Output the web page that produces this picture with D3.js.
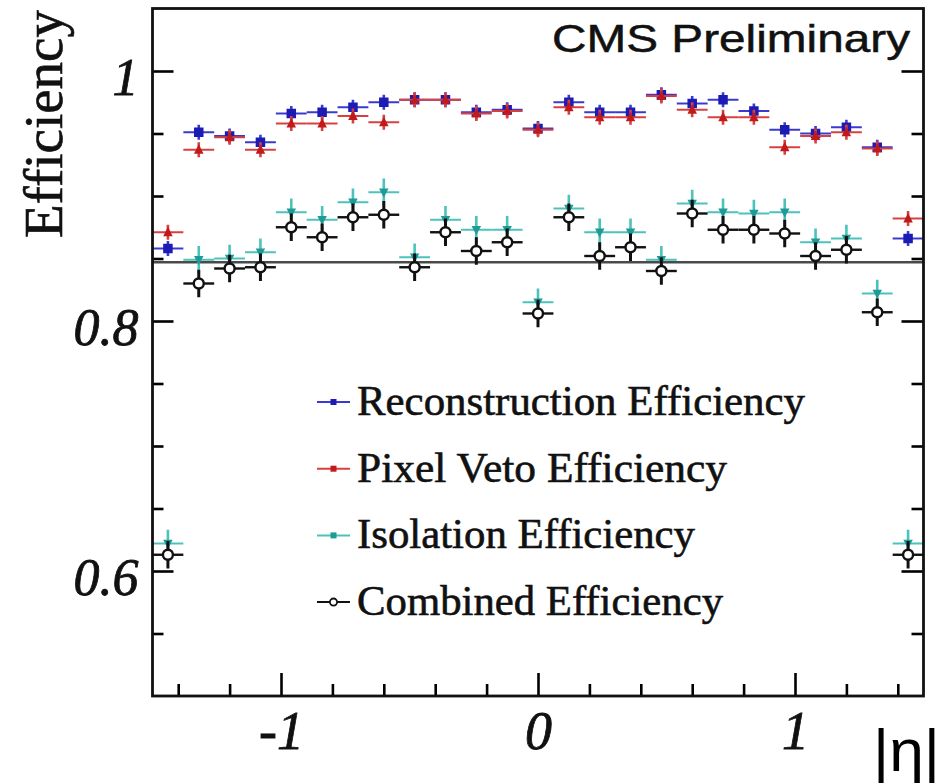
<!DOCTYPE html>
<html>
<head>
<meta charset="utf-8">
<script src="https://cdn.jsdelivr.net/npm/d3@7"></script>
<style>
  html, body { margin: 0; padding: 0; background: #fff; }
  svg { display: block; }
</style>
</head>
<body>
<svg id="chart" width="952" height="784"></svg>
<script>
// |eta| bin centres (bin width 0.12)
const etaBins = [-1.44, -1.32, -1.20, -1.08, -0.96, -0.84, -0.72, -0.60, -0.48, -0.36, -0.24, -0.12,
                 0.00, 0.12, 0.24, 0.36, 0.48, 0.60, 0.72, 0.84, 0.96, 1.08, 1.20, 1.32, 1.44];
const binHalfWidth = 0.06;

const recoEff  = [0.858, 0.951, 0.948, 0.943, 0.966, 0.967, 0.971, 0.975, 0.977, 0.977, 0.967, 0.969,
                  0.954, 0.975, 0.967, 0.967, 0.981, 0.974, 0.977, 0.968, 0.953, 0.950, 0.955, 0.939, 0.866];
const pixelEff = [0.871, 0.937, 0.947, 0.937, 0.958, 0.958, 0.964, 0.959, 0.977, 0.977, 0.966, 0.968,
                  0.953, 0.971, 0.963, 0.963, 0.980, 0.969, 0.963, 0.963, 0.939, 0.948, 0.951, 0.938, 0.882];
const isoEff   = [0.622, 0.849, 0.850, 0.855, 0.887, 0.881, 0.895, 0.903, 0.851, 0.881, 0.873, 0.873,
                  0.815, 0.890, 0.871, 0.871, 0.849, 0.894, 0.887, 0.886, 0.887, 0.863, 0.866, 0.822, 0.622];
const combEff  = [0.613, 0.830, 0.842, 0.843, 0.875, 0.867, 0.883, 0.885, 0.843, 0.871, 0.856, 0.863,
                  0.806, 0.883, 0.852, 0.859, 0.840, 0.886, 0.873, 0.873, 0.870, 0.852, 0.857, 0.807, 0.613];

// statistical uncertainty per series
const recoErr = 0.006, pixelErr = 0.006, isoErr = 0.011, combErr = 0.011;

const referenceLevel = 0.847;

const yMajorTicks = [0.6, 0.8, 1.0];
const yMinorTicks = [0.55, 0.65, 0.7, 0.75, 0.85, 0.9, 0.95];
const xMajorTicks = [-1, 0, 1];
const xMinorTicks = [-1.4, -1.2, -0.8, -0.6, -0.4, -0.2, 0.2, 0.4, 0.6, 0.8, 1.2, 1.4];

const legendLabels = ["Reconstruction Efficiency", "Pixel Veto Efficiency",
                      "Isolation Efficiency", "Combined Efficiency"];

// ---------------------------------------------------------------
const svg = d3.select("#chart");
const x = d3.scaleLinear().domain([-1.5, 1.5]).range([152.5, 923.5]);
const y = d3.scaleLinear().domain([0.5, 1.05]).range([696, 8.5]);
const [x0, x1] = x.range();
const [yb, yt] = y.range();

const serif = "'Liberation Serif', 'Times New Roman', Times, serif";
const sans = "'Liberation Sans', Arial, Helvetica, sans-serif";

const series = [
  { name: legendLabels[0], values: recoEff,  err: recoErr,  color: "#1c1cb4", barColor: "#3a3ad0", marker: "square" },
  { name: legendLabels[1], values: pixelEff, err: pixelErr, color: "#c01a1a", barColor: "#d84040", marker: "triangle" },
  { name: legendLabels[2], values: isoEff,   err: isoErr,   color: "#1f9a94", barColor: "#4cc2bc", marker: "itriangle" },
  { name: legendLabels[3], values: combEff,  err: combErr,  color: "#111111", barColor: "#111111", marker: "circle" }
];

function drawMarker(g, type, cx, cy, color, s) {
  if (type === "square") {
    g.append("rect").attr("x", cx - s / 2).attr("y", cy - s / 2)
      .attr("width", s).attr("height", s).attr("fill", color);
  } else if (type === "triangle") {
    const h = s * 0.95;
    g.append("path")
      .attr("d", `M${cx},${cy - h * 0.6}L${cx + s / 2},${cy + h * 0.45}L${cx - s / 2},${cy + h * 0.45}Z`)
      .attr("fill", color);
  } else if (type === "itriangle") {
    const h = s * 0.9;
    g.append("path")
      .attr("d", `M${cx},${cy + h * 0.6}L${cx + s / 2},${cy - h * 0.45}L${cx - s / 2},${cy - h * 0.45}Z`)
      .attr("fill", color);
  } else if (type === "circle") {
    g.append("circle").attr("cx", cx).attr("cy", cy).attr("r", s / 2)
      .attr("fill", "#fff").attr("stroke", color).attr("stroke-width", 2.4);
  }
}

// reference line
svg.append("line")
  .attr("x1", x0).attr("x2", x1)
  .attr("y1", y(referenceLevel)).attr("y2", y(referenceLevel))
  .attr("stroke", "#4a4a4a").attr("stroke-width", 2.6);

// data points with error bars
const plot = svg.append("g");
series.forEach(s => {
  const g = plot.append("g");
  const bw = s.marker === "circle" ? 2.4 : 2;
  s.values.forEach((v, i) => {
    const cx = x(etaBins[i]), cy = y(v);
    g.append("line")
      .attr("x1", x(etaBins[i] - binHalfWidth)).attr("x2", x(etaBins[i] + binHalfWidth))
      .attr("y1", cy).attr("y2", cy)
      .attr("stroke", s.barColor).attr("stroke-width", bw);
    g.append("line")
      .attr("x1", cx).attr("x2", cx)
      .attr("y1", y(v - s.err)).attr("y2", y(v + s.err))
      .attr("stroke", s.barColor).attr("stroke-width", bw + 0.6);
    drawMarker(g, s.marker, cx, cy, s.color, s.marker === "circle" ? 10 : 9.5);
  });
});

// axes: ticks point into the frame
const tickStyle = sel => {
  sel.select(".domain").remove();
  sel.selectAll(".tick line").attr("stroke", "#000").attr("stroke-width", 2.6);
};

svg.append("g").attr("transform", `translate(0,${yb})`)
  .call(d3.axisBottom(x).tickValues(xMinorTicks).tickSize(-12).tickFormat(""))
  .call(tickStyle);
svg.append("g").attr("transform", `translate(0,${yb})`)
  .call(d3.axisBottom(x).tickValues(xMajorTicks).tickSize(-23).tickPadding(17)
        .tickFormat(d => String(d)))
  .call(tickStyle)
  .call(g => g.selectAll("text")
    .attr("font-family", serif).attr("font-style", "italic")
    .attr("font-size", 54).attr("fill", "#111").attr("dy", "0.66em")
    .attr("stroke", "#111").attr("stroke-width", 0.8));

svg.append("g").attr("transform", `translate(${x0},0)`)
  .call(d3.axisLeft(y).tickValues(yMinorTicks).tickSize(-11).tickFormat(""))
  .call(tickStyle);
svg.append("g").attr("transform", `translate(${x0},0)`)
  .call(d3.axisLeft(y).tickValues(yMajorTicks).tickSize(-21).tickPadding(14)
        .tickFormat(d => d === 1 ? "1" : d3.format(".1f")(d)))
  .call(tickStyle)
  .call(g => g.selectAll("text")
    .attr("font-family", serif).attr("font-style", "italic")
    .attr("font-size", 52).attr("fill", "#111").attr("dy", "0.45em")
    .attr("stroke", "#111").attr("stroke-width", 0.8));

svg.append("g").attr("transform", `translate(${x1},0)`)
  .call(d3.axisRight(y).tickValues(yMinorTicks).tickSize(-12).tickFormat(""))
  .call(tickStyle);
svg.append("g").attr("transform", `translate(${x1},0)`)
  .call(d3.axisRight(y).tickValues(yMajorTicks).tickSize(-22).tickFormat(""))
  .call(tickStyle);

// frame
svg.append("rect")
  .attr("x", x0).attr("y", yt).attr("width", x1 - x0).attr("height", yb - yt)
  .attr("fill", "none").attr("stroke", "#111").attr("stroke-width", 2.8);

// axis titles
svg.append("text")
  .attr("transform", "translate(62,238) rotate(-90)")
  .attr("font-family", serif).attr("font-size", 54).attr("fill", "#111")
  .attr("stroke", "#111").attr("stroke-width", 0.6)
  .attr("textLength", 228).attr("lengthAdjust", "spacingAndGlyphs")
  .text("Efficiency");

svg.append("text")
  .attr("x", 873).attr("y", 771)
  .attr("font-family", sans).attr("font-size", 60).attr("fill", "#000")
  .attr("textLength", 67).attr("lengthAdjust", "spacingAndGlyphs")
  .text("|η|");

svg.append("text")
  .attr("x", 552).attr("y", 52)
  .attr("font-family", sans).attr("font-size", 39).attr("fill", "#111")
  .attr("stroke", "#111").attr("stroke-width", 0.5)
  .attr("textLength", 358).attr("lengthAdjust", "spacingAndGlyphs")
  .text("CMS Preliminary");

// legend
const legendWidths = [448, 370, 338, 366];
const legend = svg.append("g");
series.forEach((s, i) => {
  const base = 415 + i * 66.7;
  const my = base - 13;
  const g = legend.append("g");
  g.append("line").attr("x1", 317).attr("x2", 350).attr("y1", my).attr("y2", my)
    .attr("stroke", s.barColor).attr("stroke-width", 2);
  if (s.marker === "circle") {
    g.append("circle").attr("cx", 333.5).attr("cy", my).attr("r", 3.6)
      .attr("fill", "#fff").attr("stroke", s.color).attr("stroke-width", 1.8);
  } else {
    g.append("rect").attr("x", 330.5).attr("y", my - 3).attr("width", 6).attr("height", 6)
      .attr("fill", s.color);
  }
  g.append("text")
    .attr("x", 357).attr("y", base)
    .attr("font-family", serif).attr("font-size", 42).attr("fill", "#111")
    .attr("stroke", "#111").attr("stroke-width", 0.6)
    .attr("textLength", legendWidths[i]).attr("lengthAdjust", "spacingAndGlyphs")
    .text(s.name);
});
</script>
</body>
</html>
